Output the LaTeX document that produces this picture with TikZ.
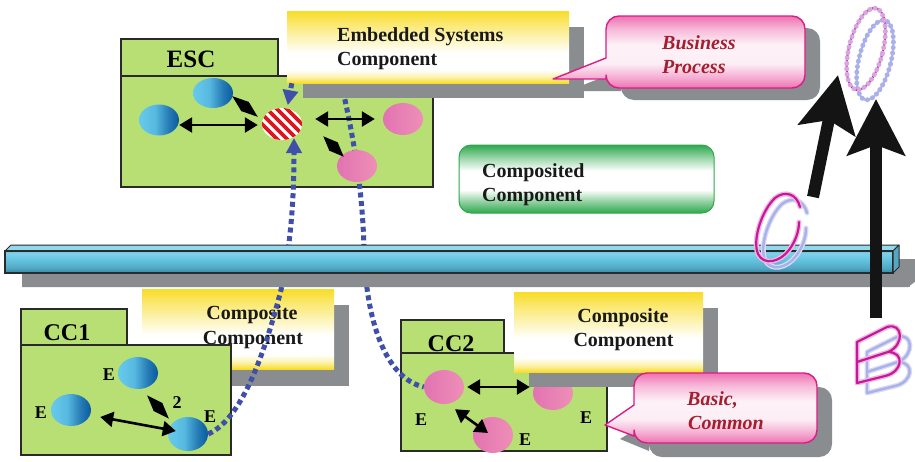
\documentclass[tikz,border=0pt]{standalone}
\usepackage{fontspec}
\setmainfont{Liberation Serif}
\usetikzlibrary{arrows.meta,calc,shapes.geometric}

\definecolor{boxgreen}{HTML}{B7DF74}
\definecolor{boxline}{HTML}{2A2A2A}
\definecolor{shadowgray}{HTML}{8A8D90}
\definecolor{ballcyan}{HTML}{66CAEC}
\definecolor{balldark}{HTML}{0A5A9E}
\definecolor{pinkL}{HTML}{E273B2}
\definecolor{pinkR}{HTML}{EE8FB6}
\definecolor{dotblue}{HTML}{3F4FAA}
\definecolor{stripered}{HTML}{E0141E}
\definecolor{hiyellow}{HTML}{F8DC26}
\definecolor{hipgreen}{HTML}{2EA84C}
\definecolor{callpink}{HTML}{EE72B2}
\definecolor{callborder}{HTML}{DA1C86}
\definecolor{calltext}{HTML}{A31E2E}
\definecolor{barcyan}{HTML}{62C4E2}
\definecolor{bardark}{HTML}{2A86A6}
\definecolor{bartop}{HTML}{93D9EE}
\definecolor{letmag}{HTML}{C8189A}
\definecolor{letpurple}{HTML}{9A22B4}
\definecolor{letblue}{HTML}{AAB0E8}
\definecolor{arrowblack}{HTML}{141414}

% vertical bands: 25bp = bottom edge, 75bp = top edge of the filled path
\pgfdeclareverticalshading{yellowband}{100bp}{color(0bp)=(hiyellow); color(25bp)=(hiyellow); color(29bp)=(hiyellow!40!white); color(34bp)=(white); color(46bp)=(white); color(66bp)=(hiyellow!65!white); color(75bp)=(hiyellow); color(100bp)=(hiyellow)}
\pgfdeclareverticalshading{greenband}{100bp}{color(0bp)=(hipgreen); color(25bp)=(hipgreen); color(34bp)=(hipgreen!50!white); color(42bp)=(white); color(56bp)=(white); color(66bp)=(hipgreen!50!white); color(75bp)=(hipgreen); color(100bp)=(hipgreen)}
\pgfdeclareverticalshading{pinkband}{100bp}{color(0bp)=(callpink); color(25bp)=(callpink); color(32bp)=(callpink!60!white); color(42bp)=(callpink!12!white); color(55bp)=(callpink!10!white); color(66bp)=(callpink!50!white); color(75bp)=(callpink); color(100bp)=(callpink)}
\pgfdeclareverticalshading{barshade}{100bp}{color(0bp)=(bardark); color(25bp)=(bardark); color(36bp)=(barcyan!85!black); color(55bp)=(barcyan); color(70bp)=(barcyan!80!white); color(75bp)=(barcyan); color(100bp)=(barcyan)}
\pgfdeclarehorizontalshading{blueballshade}{100bp}{color(0bp)=(ballcyan); color(25bp)=(ballcyan); color(45bp)=(ballcyan!85!balldark); color(62bp)=(balldark!70!ballcyan); color(75bp)=(balldark); color(100bp)=(balldark)}

\tikzset{
  greenbox/.style={fill=boxgreen, draw=boxline, line width=1.4pt},
  yellowbox/.style={shade, shading=yellowband, inner sep=0pt, draw=none},
  lbl/.style={font=\fontsize{20}{24}\selectfont\bfseries, text=black!90, inner sep=0pt, anchor=base west},
  clbl/.style={font=\fontsize{20}{24}\selectfont\bfseries, text=black!90, inner sep=0pt, anchor=base},
  boxlabel/.style={font=\fontsize{25}{30}\selectfont\bfseries, inner sep=0pt, anchor=base},
  elbl/.style={font=\fontsize{18}{20}\selectfont\bfseries, inner sep=0pt, anchor=base},
  calltxt/.style={font=\fontsize{20}{24}\selectfont\bfseries\itshape, text=calltext, inner sep=0pt, anchor=base west},
  callout/.style={shade, shading=pinkband, draw=callborder, line width=1.4pt, line join=round},
  blueball/.style={ellipse, shade, shading=blueballshade, minimum width=40pt, minimum height=32pt, inner sep=0pt},
  pinkball/.style={ellipse, left color=pinkL, right color=pinkR, minimum width=40pt, minimum height=34pt, inner sep=0pt},
  dbl/.style={{Triangle[length=13pt,width=15pt]}-{Triangle[length=13pt,width=15pt]}, line width=2.6pt, draw=black},
  dotline/.style={draw=dotblue, line width=5pt, dash pattern=on 5pt off 3.6pt},
  dothead/.style={-{Triangle[length=15pt,width=15pt]}},
  bigarrow/.style={-{Stealth[length=56pt,width=57pt,inset=10pt]}, line width=12pt, draw=arrowblack},
  rhomb/.style={diamond, fill=black, inner sep=0pt, minimum width=#1, minimum height=12pt},
  glowmag/.style={draw=letmag!30, line width=5pt, line join=round, line cap=round},
  strokemag/.style={draw=letmag, line width=2.2pt, line join=round, line cap=round},
  glowblue/.style={draw=letblue!45, line width=5pt, line join=round, line cap=round},
  strokeblue/.style={draw=letblue, line width=2.4pt, line join=round, line cap=round},
  beadline/.style={line width=2pt},
  beads/.style={line width=5pt, line cap=round, dash pattern=on 0pt off 5.5pt},
}

\begin{document}
\begin{tikzpicture}[x=1pt,y=-1pt]
\useasboundingbox (0,0) rectangle (915,461);
\fill[white] (0,0) rectangle (915,461);

% ---------- ESC package ----------
\draw[greenbox] (121,39) rectangle (278,76);
\draw[greenbox] (121,76) rectangle (433,187);
\node[boxlabel] (esclbl) at (191,67) {ESC};

\fill[shadowgray] (303,27) rectangle (584,98);
\node[yellowbox, minimum width=282pt, minimum height=72pt] (emb) at (428,47) {};
\node[lbl] (emb1) at (337,41) {Embedded Systems};
\node[lbl] (emb2) at (337,65) {Component};

% ---------- Business Process callout ----------
\fill[shadowgray] (568,91) -- (621,70) [rounded corners=13pt] -- (621,28) -- (820,28) -- (820,100) -- (621,100) [sharp corners] -- (621,91) -- cycle;
\path[callout] (553,79) -- (606,58) [rounded corners=13pt] -- (606,16) -- (805,16) -- (805,88) -- (606,88) [sharp corners] -- (606,79) -- cycle;
\node[calltxt] (biz1) at (662,49) {Business};
\node[calltxt] (biz2) at (662,73) {Process};

% ---------- Composited Component ----------
\node[shade, shading=greenband, draw=hipgreen, line width=1pt, rounded corners=12pt,
      minimum width=255pt, minimum height=68pt, inner sep=0pt] (cmp) at (586.5,179) {};
\node[lbl] (cmp1) at (482,177) {Composited};
\node[lbl] (cmp2) at (482,201) {Component};

% ---------- CC1 package ----------
\fill[shadowgray] (157,305) rectangle (349,386);
\node[yellowbox, minimum width=192pt, minimum height=80pt] (cc1y) at (238,329) {};
\node[clbl] (cc1t1) at (252,319) {Composite};
\node[clbl] (cc1t2) at (253,344) {Component};
\draw[greenbox] (21,309) rectangle (127,345);
\draw[greenbox] (21,345) rectangle (231,455);
\node[boxlabel, font=\fontsize{24}{28}\selectfont\bfseries] (cc1lbl) at (67,340) {CC1};

% ---------- CC2 package ----------
\draw[greenbox] (401,320) rectangle (504,353);
\draw[greenbox] (401,353) rectangle (607,451);
\node[boxlabel, font=\fontsize{24}{28}\selectfont\bfseries] (cc2lbl) at (451,351) {CC2};
\node[pinkball] (p1) at (444,387) {};
\node[pinkball] (p2) at (553,393) {};
\node[pinkball, minimum height=36pt] (p3) at (493,435) {};
\fill[shadowgray] (529,308) rectangle (718,387);
\node[yellowbox, minimum width=189pt, minimum height=80pt] (cc2y) at (608.5,332) {};
\node[clbl] (cc2t1) at (623,322) {Composite};
\node[clbl] (cc2t2) at (623.5,346) {Component};

% ---------- Basic, Common callout ----------
\fill[shadowgray] (620,439) -- (649,421) [rounded corners=13pt] -- (649,387) -- (832,387) -- (832,457) -- (649,457) [sharp corners] -- (649,451) -- cycle;
\path[callout] (605,425) -- (634,405) [rounded corners=13pt] -- (634,373) -- (817,373) -- (817,443) -- (634,443) [sharp corners] -- (634,436) -- cycle;
\node[calltxt] (bas1) at (687,405) {Basic,};
\node[calltxt] (bas2) at (688,429) {Common};

% ---------- CC1 contents ----------
\node[blueball] (c1) at (138,373) {};
\node[blueball] (c2) at (71,410) {};
\node[blueball, minimum height=34pt] (c3) at (188,434) {};

% ---------- dotted dependencies ----------
\draw[dotline, dothead] ($(emb.south west)+(5,0)$) -- ($(emb.south west)+(1,22)$);
\draw[dotline] ($(emb.south west)+(58,16)$) .. controls (356,150) and (363,200) .. (364,250)
      .. controls (366,320) and (385,378) .. (p1.west);
\coordinate (sbin) at (294,138);
\draw[dotline, dothead] (c3.east) .. controls (245,418) and (268,340) .. (281,290)
      .. controls (292,240) and (294,190) .. (sbin);

% ---------- ESC contents ----------
\node[blueball, minimum height=31pt] (b1) at (159,120) {};
\node[blueball, minimum height=30pt] (b2) at (213,93) {};
\node[pinkball, minimum height=32pt] (k1) at (403,119) {};
\node[pinkball, minimum height=32pt] (k2) at (357,166) {};
\node[ellipse, fill=white, minimum width=40pt, minimum height=32pt, inner sep=0pt] (sb) at (282,124) {};
\begin{scope}
  \clip (282,124) ellipse [x radius=20pt, y radius=16pt];
  \foreach \k in {-3,...,3}
    \draw[stripered, line width=3.8pt] ($(sb.center)+(\k*10-24,-24)$) -- ++(48,48);
\end{scope}
\draw[dbl] ($(b1.east)+(0,5)$) -- ($(sb.west)+(-4,1)$);
\draw[dbl] ($(sb.east)+(13,-5)$) -- ($(k1.west)+(-8,0)$);
\node[rhomb=33pt, rotate=-39] (d1) at (245,106.5) {};
\node[rhomb=29pt, rotate=-45] (d2) at (333.5,146.5) {};

% ---------- CC1 relations ----------
\draw[dbl] ($(c2.east)+(9,7)$) -- ($(c3.west)+(8,-3)$);
\node[rhomb=32pt, rotate=-47] (d3) at (158,407) {};
\node[elbl] (e1) at (41,418) {E};
\node[elbl] (e2) at (109,380) {E};
\node[elbl] (e3) at (210,422) {E};
\node[elbl] (n2) at (177,408) {2};

% ---------- CC2 relations ----------
\draw[dbl] ($(p1.east)+(3,0)$) -- ($(p1.east -| p2.west)+(-3,0)$);
\draw[dbl] ($(p1.south)+(11,5)$) -- ($(p3.center)+(-5,-2)$);
\node[elbl] (e4) at (421,425) {E};
\node[elbl] (e5) at (525,445) {E};
\node[elbl] (e6) at (586,423) {E};

% ---------- bus bar ----------
\fill[shadowgray] (22,265) -- (916,259) -- (916,281) -- (908,287) -- (22,287) -- cycle;
\fill[shadowgray] (22,265) rectangle (910,287);
\filldraw[fill=bartop, draw=boxline, line width=1pt, line join=round] (5,251) -- (11,245) -- (899,245) -- (893,251) -- cycle;
\shade[shading=barshade] (5,251) rectangle (893,273);
\draw[boxline, line width=1.1pt] (5,251) rectangle (893,273);
\filldraw[fill=barcyan!85!black, draw=boxline, line width=1pt, line join=round] (893,251) -- (899,245) -- (899,267) -- (893,273) -- cycle;

% ---------- level arrows ----------
\coordinate (a1s) at (813,197);
\coordinate (a1e) at (838,75);
\coordinate (a2s) at (876,318);
\coordinate (a2e) at (876,99);
\draw[bigarrow] (a1s) -- (a1e);
\draw[bigarrow] (a2s) -- (a2e);

% ---------- outlined letters ----------
% C
\begin{scope}[shift={(7,6)}]
  \draw[glowblue] (800,207) .. controls (797,194) and (785,190) .. (775,198) .. controls (762,210) and (752,240) .. (758,254) .. controls (764,266) and (780,262) .. (789,250) .. controls (795,242) and (799,232) .. (799,222);
  \draw[strokeblue] (800,207) .. controls (797,194) and (785,190) .. (775,198) .. controls (762,210) and (752,240) .. (758,254) .. controls (764,266) and (780,262) .. (789,250) .. controls (795,242) and (799,232) .. (799,222);
\end{scope}
\draw[glowmag] (800,207) .. controls (797,194) and (785,190) .. (775,198) .. controls (762,210) and (752,240) .. (758,254) .. controls (764,266) and (780,262) .. (789,250) .. controls (795,242) and (799,232) .. (799,222);
\draw[strokemag] (800,207) .. controls (797,194) and (785,190) .. (775,198) .. controls (762,210) and (752,240) .. (758,254) .. controls (764,266) and (780,262) .. (789,250) .. controls (795,242) and (799,232) .. (799,222);

% B
\begin{scope}[shift={(10,10)}]
  \draw[glowblue] (857,383) -- (857,342) -- (887,327) .. controls (903,322) and (905,345) .. (888,352) .. controls (905,352) and (903,372) .. (885,376) -- cycle (857,362) -- (888,352);
  \draw[strokeblue] (857,383) -- (857,342) -- (887,327) .. controls (903,322) and (905,345) .. (888,352) .. controls (905,352) and (903,372) .. (885,376) -- cycle (857,362) -- (888,352);
\end{scope}
\draw[glowmag] (857,383) -- (857,342) -- (887,327) .. controls (903,322) and (905,345) .. (888,352) .. controls (905,352) and (903,372) .. (885,376) -- cycle (857,362) -- (888,352);
\draw[strokemag] (857,383) -- (857,342) -- (887,327) .. controls (903,322) and (905,345) .. (888,352) .. controls (905,352) and (903,372) .. (885,376) -- cycle (857,362) -- (888,352);

% beaded loop, two offset copies of a tilted oval
\begin{scope}[shift={(875,60)}, rotate=-14]
  \draw[beadline, letblue] (0,0) ellipse [x radius=16pt, y radius=41pt];
  \draw[beads, letblue] (0,0) ellipse [x radius=16pt, y radius=41pt];
\end{scope}
\begin{scope}[shift={(866,49)}, rotate=-14]
  \draw[beadline, letmag] (0,0) ellipse [x radius=17pt, y radius=42pt];
  \draw[beads, letpurple!40] (0,0) ellipse [x radius=17pt, y radius=42pt];
\end{scope}
\end{tikzpicture}
\end{document}
